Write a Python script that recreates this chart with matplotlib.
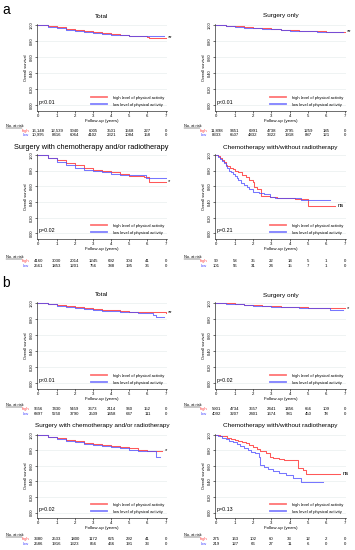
import matplotlib
matplotlib.use('Agg')
import matplotlib.pyplot as plt
import matplotlib.transforms as mtransforms
from matplotlib.lines import Line2D

plt.rcParams['font.family'] = ['Liberation Sans', 'DejaVu Sans']

# ---- data ----
years = [0, 1, 2, 3, 4, 5, 6, 7]

# a / Total
a_tot_hi_t = [0, 0.5, 1, 1.5, 2, 2.5, 3, 3.5, 4, 4.5, 5, 5.5, 6, 6.1, 7]
a_tot_hi_s = [1.0, .983, .967, .951, .937, .923, .909, .897, .886, .876, .866, .857, .851, .84, .84]
a_tot_lo_t = [0, 0.5, 1, 1.5, 2, 2.5, 3, 3.5, 4, 4.5, 5, 5.5, 6, 6.9]
a_tot_lo_s = [1.0, .978, .959, .941, .926, .912, .899, .888, .878, .869, .861, .857, .855, .855]
a_tot_risk_hi = ['16,148', '12,539', '9040', '6005', '3501', '1568', '227', '0']
a_tot_risk_lo = ['10,995', '8416', '6064', '4102', '2321', '1084', '158', '0']

# a / Surgery only
a_sur_hi_t = [0, 0.5, 1, 1.5, 2, 2.5, 3, 3.5, 4, 4.5, 5, 5.5, 6, 7]
a_sur_hi_s = [1.0, .99, .98, .971, .963, .955, .947, .94, .933, .927, .921, .917, .915, .913]
a_sur_lo_t = [0, 0.5, 1, 1.5, 2, 2.5, 3, 3.5, 4, 4.5, 5, 5.5, 6, 6.9]
a_sur_lo_s = [1.0, .987, .975, .966, .958, .95, .943, .936, .929, .923, .918, .915, .914, .913]
a_sur_risk_hi = ['11,898', '9451', '6991', '4738', '2795', '1259', '185', '0']
a_sur_risk_lo = ['8333', '6507', '4832', '3322', '1918', '887', '121', '0']

# a / Surgery with chemotherapy and/or radiotherapy
a_sch_hi_t = [0, 0.5, 1, 1.5, 2, 2.5, 3, 3.5, 4, 4.5, 5, 5.5, 5.8, 6.1, 7]
a_sch_hi_s = [1.0, .965, .93, .895, .865, .835, .81, .79, .775, .755, .735, .725, .715, .655, .655]
a_sch_lo_t = [0, 0.5, 1, 1.5, 2, 2.5, 3, 3.5, 4, 4.5, 5, 5.5, 5.9, 7]
a_sch_lo_s = [1.0, .955, .912, .872, .838, .812, .79, .775, .76, .747, .738, .738, .70, .70]
a_sch_risk_hi = ['4160', '3030', '2014', '1245', '692', '304', '41', '0']
a_sch_risk_lo = ['2561', '1853', '1201', '756', '388', '195', '36', '0']

# a / Chemotherapy with/without radiotherapy
a_che_hi_t = [0, .1, .2, .3, .4, .5, .6, .75, .9, 1, 1.2, 1.4, 1.6, 1.8, 2, 2.05, 2.2, 2.45, 2.9, 3.3, 3.8, 4.3, 5, 6.5]
a_che_hi_s = [1.0, .98, .955, .93, .905, .875, .855, .83, .815, .80, .775, .745, .715, .685, .65, .59, .565, .48, .465, .455, .445, .435, .355, .355]
a_che_lo_t = [0, .1, .2, .3, .4, .5, .6, .7, .8, .9, 1, 1.1, 1.2, 1.35, 1.5, 1.65, 1.8, 2, 2.3, 2.6, 2.9, 3.2, 4.1, 4.6, 6.2]
a_che_lo_s = [1.0, .975, .95, .92, .89, .855, .83, .80, .78, .755, .73, .70, .675, .645, .61, .585, .56, .53, .52, .505, .47, .455, .445, .42, .42]
a_che_risk_hi = ['90', '58', '35', '22', '14', '5', '1', '0']
a_che_risk_lo = ['101', '56', '31', '24', '15', '7', '1', '0']

# b / Total
b_tot_hi_t = [0, 0.5, 1, 1.5, 2, 2.5, 3, 3.5, 4, 4.5, 5, 5.5, 6, 7]
b_tot_hi_s = [1.0, .985, .972, .96, .948, .937, .926, .916, .907, .899, .892, .886, .881, .878]
b_tot_lo_t = [0, 0.5, 1, 1.5, 2, 2.5, 3, 3.5, 4, 4.5, 5, 5.5, 6, 6.3, 6.5, 6.9]
b_tot_lo_s = [1.0, .98, .964, .95, .937, .925, .914, .904, .896, .889, .883, .878, .874, .85, .83, .83]
b_tot_risk_hi = ['9556', '7430', '5459', '3673', '2114', '960', '152', '0']
b_tot_risk_lo = ['6897', '5250', '3790', '2509', '1458', '647', '111', '0']

# b / Surgery only
b_sur_hi_t = [0, 0.5, 1, 1.5, 2, 2.5, 3, 3.5, 4, 4.5, 5, 5.5, 6, 6.2, 7]
b_sur_hi_s = [1.0, .992, .984, .977, .971, .965, .959, .954, .949, .945, .941, .938, .935, .93, .93]
b_sur_lo_t = [0, 0.5, 1, 1.5, 2, 2.5, 3, 3.5, 4, 4.5, 5, 5.5, 6, 6.2, 6.9]
b_sur_lo_s = [1.0, .99, .979, .971, .964, .958, .953, .948, .944, .94, .937, .934, .932, .91, .91]
b_sur_risk_hi = ['5901', '4734', '3557', '2441', '1456', '656', '109', '0']
b_sur_risk_lo = ['4092', '3207', '2401', '1674', '981', '450', '78', '0']

# b / Surgery with chemotherapy and/or radiotherapy
b_sch_hi_t = [0, 0.5, 1, 1.5, 2, 2.5, 3, 3.5, 4, 4.5, 5, 5.5, 6, 6.8]
b_sch_hi_s = [1.0, .977, .955, .935, .917, .90, .884, .87, .856, .843, .83, .80, .795, .795]
b_sch_lo_t = [0, 0.5, 1, 1.5, 2, 2.5, 3, 3.5, 4, 4.5, 5, 5.5, 6, 6.45, 6.7]
b_sch_lo_s = [1.0, .972, .946, .923, .902, .884, .868, .853, .84, .827, .805, .795, .795, .71, .71]
b_sch_risk_hi = ['3380', '2533', '1800', '1172', '625', '292', '41', '0']
b_sch_risk_lo = ['2586', '1916', '1323', '856', '466', '191', '33', '0']

# b / Chemotherapy with/without radiotherapy
b_che_hi_t = [0, .2, .4, .6, .8, 1, 1.2, 1.4, 1.6, 1.8, 2, 2.2, 2.4, 2.7, 2.9, 3.1, 3.4, 3.7, 4.45, 4.75, 4.9, 6.75]
b_che_hi_s = [1.0, .99, .98, .965, .95, .935, .92, .905, .89, .87, .845, .815, .795, .765, .72, .705, .69, .68, .575, .55, .50, .50]
b_che_lo_t = [0, .1, .3, .5, .7, .9, 1.1, 1.3, 1.5, 1.7, 1.9, 2.1, 2.3, 2.4, 2.6, 2.8, 3.1, 3.4, 3.8, 4.2, 4.6, 5.8]
b_che_lo_s = [1.0, .98, .96, .94, .925, .905, .885, .86, .83, .80, .78, .76, .71, .61, .58, .56, .535, .505, .48, .45, .39, .39]
b_che_risk_hi = ['275', '163', '102', '60', '33', '12', '2', '0']
b_che_risk_lo = ['219', '127', '66', '27', '11', '6', '0', '0']

titles = ['Total', 'Surgery only',
          'Surgery with chemotherapy and/or radiotherapy',
          'Chemotherapy with/without radiotherapy'] * 2
pvals = ['p<0.01', 'p<0.01', 'p=0.02', 'p=0.21',
         'p<0.01', 'p=0.02', 'p=0.02', 'p=0.13']
signif = ['**', '**', '*', 'ns', '**', '*', '*', 'ns']

curves = [
    (a_tot_hi_t, a_tot_hi_s, a_tot_lo_t, a_tot_lo_s, a_tot_risk_hi, a_tot_risk_lo),
    (a_sur_hi_t, a_sur_hi_s, a_sur_lo_t, a_sur_lo_s, a_sur_risk_hi, a_sur_risk_lo),
    (a_sch_hi_t, a_sch_hi_s, a_sch_lo_t, a_sch_lo_s, a_sch_risk_hi, a_sch_risk_lo),
    (a_che_hi_t, a_che_hi_s, a_che_lo_t, a_che_lo_s, a_che_risk_hi, a_che_risk_lo),
    (b_tot_hi_t, b_tot_hi_s, b_tot_lo_t, b_tot_lo_s, b_tot_risk_hi, b_tot_risk_lo),
    (b_sur_hi_t, b_sur_hi_s, b_sur_lo_t, b_sur_lo_s, b_sur_risk_hi, b_sur_risk_lo),
    (b_sch_hi_t, b_sch_hi_s, b_sch_lo_t, b_sch_lo_s, b_sch_risk_hi, b_sch_risk_lo),
    (b_che_hi_t, b_che_hi_s, b_che_lo_t, b_che_lo_s, b_che_risk_hi, b_che_risk_lo),
]

# ---- layout (pixels) ----
W, H = 355, 550
cols = [(37, 167), (215, 346)]
rows = [(24, 111), (154, 239), (302, 389), (434, 518)]
title_y = [16, 147, 295, 426]
risk_y = [(126, 131, 135), (257, 261, 266), (405, 409, 414), (535, 539, 544)]

RED = '#ff3b3b'
BLUE = '#4a4aff'
NUM = 3.1

fig = plt.figure(figsize=(W / 100, H / 100), dpi=100)
fig.text(2 / W, 1 - 10 / H, 'a', fontsize=10, va='center', ha='left')
fig.text(2 / W, 1 - 283 / H, 'b', fontsize=10, va='center', ha='left')


def fy(y):
    return 1 - y / H


for i, (ht, hs, lt, ls, rh, rl) in enumerate(curves):
    r, c = divmod(i, 2)
    x0, x1 = cols[c]
    top, bot = rows[r]
    ax = fig.add_axes([x0 / W, fy(bot), (x1 - x0) / W, (bot - top) / H])

    ax.step(ht, hs, where='post', color=RED, lw=0.75, alpha=0.85,
            label='high level of physical activity')
    ax.step(lt, ls, where='post', color=BLUE, lw=0.75, alpha=0.75,
            label='low level of physical activity')

    ax.set_xlim(-0.08, 7.08)
    ax.set_ylim(-0.07, 1.01)
    ax.set_xticks(years)
    ax.set_yticks([0, 0.2, 0.4, 0.6, 0.8, 1.0])
    ax.set_yticklabels(['%.2f' % v for v in [0, 0.2, 0.4, 0.6, 0.8, 1.0]],
                       rotation=90, va='center')
    ax.tick_params(axis='x', labelsize=NUM, length=1.5, width=0.4, pad=1)
    ax.tick_params(axis='y', labelsize=2.9, length=1.5, width=0.4, pad=1)
    ax.grid(axis='y', color='#e3ebeb', lw=0.4)
    ax.set_axisbelow(True)
    for s in ['top', 'right']:
        ax.spines[s].set_visible(False)
    for s in ['left', 'bottom']:
        ax.spines[s].set_linewidth(0.4)
    ax.set_xlabel('Follow-up (years)', fontsize=3.2, labelpad=0.5)
    ax.set_ylabel('Overall survival', fontsize=2.8, labelpad=1)

    cx = (x0 + x1) / 2
    fs = 4.6
    if i == 2:
        cx, fs = 91, 5.3
    fig.text(cx / W, fy(title_y[r]), titles[i], fontsize=fs, ha='center', va='center')

    ax.text(0.015, 0.1, pvals[i], transform=ax.transAxes, fontsize=3.8, va='center')
    xend = max(ht[-1], lt[-1]) + 0.15
    ax.text(xend, hs[-1], signif[i], fontsize=4.2, va='center', ha='left', clip_on=False)

    leg = ax.legend(loc='lower right', bbox_to_anchor=(1.0, 0.02), frameon=False,
                    fontsize=3.0, handlelength=4.0, handletextpad=1.4,
                    labelspacing=0.7, borderaxespad=0.2)
    for ln in leg.get_lines():
        ln.set_linewidth(1.3)
        ln.set_alpha(0.7)

    trans = mtransforms.blended_transform_factory(ax.transData, fig.transFigure)
    ly, hy, wy = risk_y[r]
    fig.text((x0 - 31) / W, fy(ly), 'No. at risk', fontsize=2.8, ha='left', va='center')
    fig.add_artist(Line2D([(x0 - 31) / W, (x0 - 15) / W], [fy(ly + 2), fy(ly + 2)],
                          color='black', lw=0.3))
    tick0 = x0 + 1
    fig.text((tick0 - 9) / W, fy(hy), 'high', color=RED, fontsize=NUM, ha='right', va='center')
    fig.text((tick0 - 9) / W, fy(wy), 'low', color=BLUE, fontsize=NUM, ha='right', va='center')
    for k, yr in enumerate(years):
        ax.text(yr, fy(hy), rh[k], transform=trans, fontsize=NUM, ha='center', va='center')
        ax.text(yr, fy(wy), rl[k], transform=trans, fontsize=NUM, ha='center', va='center')

fig.savefig('out.png', dpi=100)
